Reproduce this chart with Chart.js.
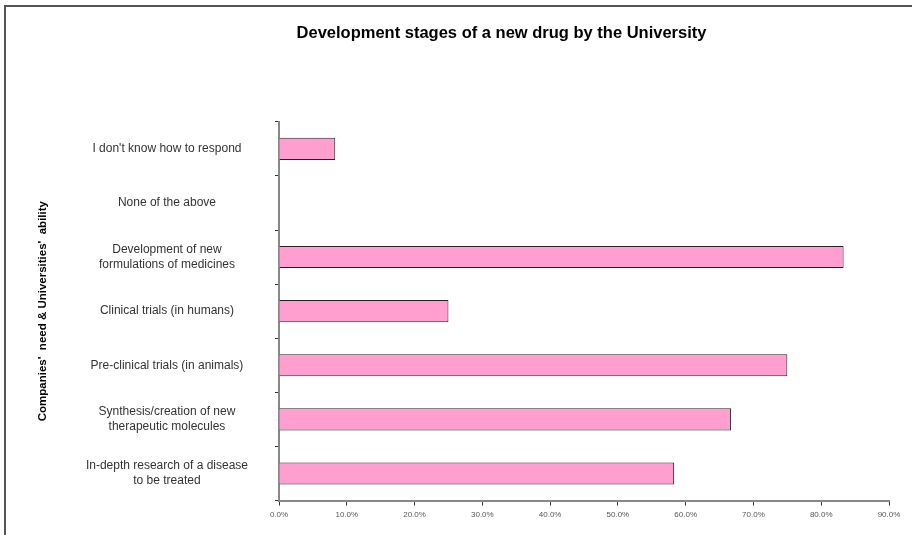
<!DOCTYPE html>
<html>
<head>
<meta charset="utf-8">
<script src="https://cdn.jsdelivr.net/npm/chart.js@4/dist/chart.umd.min.js"></script>
<style>
  html, body { margin: 0; padding: 0; background: #fff; }
  #wrap { position: relative; width: 912px; height: 535px; }
  #frame { position: absolute; left: 4px; top: 5px; width: 908px; height: 530px;
           border-left: 2px solid #555; border-top: 2px solid #555; box-sizing: border-box; pointer-events: none; }
  canvas { position: absolute; left: 0; top: 0; }
</style>
</head>
<body>
<div id="wrap">
  <canvas id="c" width="912" height="535"></canvas>
  <div id="frame"></div>
</div>
<script>
const categories = [
  "I don't know how to respond",
  ["None of the above"],
  ["Development of new", "formulations of medicines"],
  ["Clinical trials (in humans)"],
  ["Pre-clinical trials (in animals)"],
  ["Synthesis/creation of new", "therapeutic molecules"],
  ["In-depth research of a disease", "to be treated"]
];
const values = [0.083, 0, 0.833, 0.25, 0.75, 0.667, 0.583];
const xTicks = [0, 0.1, 0.2, 0.3, 0.4, 0.5, 0.6, 0.7, 0.8, 0.9];
const titleText = "Development stages of a new drug by the University";
const yTitleText = "Companies'  need & Universities'  ability";

const FONT = "'Liberation Sans', Arial, sans-serif";

const titleShift = {
  id: 'titleShift',
  afterLayout(chart) {
    const tb = chart.titleBlock;
    if (tb) { tb.left = 114; tb.right = 889; }
  }
};

new Chart(document.getElementById('c'), {
  type: 'bar',
  data: {
    labels: categories,
    datasets: [{
      data: values,
      backgroundColor: '#FF9FCF',
      borderColor: '#222',
      borderWidth: 1,
      categoryPercentage: 0.8,
      barPercentage: 0.51
    }]
  },
  plugins: [titleShift],
  options: {
    indexAxis: 'y',
    responsive: false,
    animation: false,
    layout: { padding: { left: 30, right: 23, top: 0, bottom: 7 } },
    plugins: {
      legend: { display: false },
      tooltip: { enabled: false },
      title: {
        display: true,
        text: titleText,
        color: '#000',
        font: { family: FONT, size: 16.5, weight: 'bold' },
        padding: { top: 24, bottom: 78 }
      }
    },
    scales: {
      x: {
        min: 0, max: 0.9,
        afterBuildTicks: (s) => { s.ticks = xTicks.map(v => ({ value: v })); },
        grid: { drawOnChartArea: false, drawTicks: true, tickLength: 5, color: '#333' },
        border: { display: true, color: '#888', width: 2 },
        ticks: {
          color: '#555',
          font: { family: FONT, size: 8 },
          padding: 4,
          maxRotation: 0,
          callback: (v) => (v * 100).toFixed(1) + '%'
        }
      },
      y: {
        afterFit: (s) => { s.width = 249; },
        grid: { drawOnChartArea: false, drawTicks: true, tickLength: 4, color: '#333', offset: true },
        border: { display: true, color: '#888', width: 2 },
        ticks: {
          color: '#333',
          font: { family: FONT, size: 12, lineHeight: 1.25 },
          crossAlign: 'center',
          padding: 27
        },
        title: {
          display: true,
          text: yTitleText,
          color: '#000',
          font: { family: FONT, size: 11.5, weight: 'bold' },
          padding: { top: 6, bottom: 0 }
        }
      }
    }
  }
});
</script>
</body>
</html>
